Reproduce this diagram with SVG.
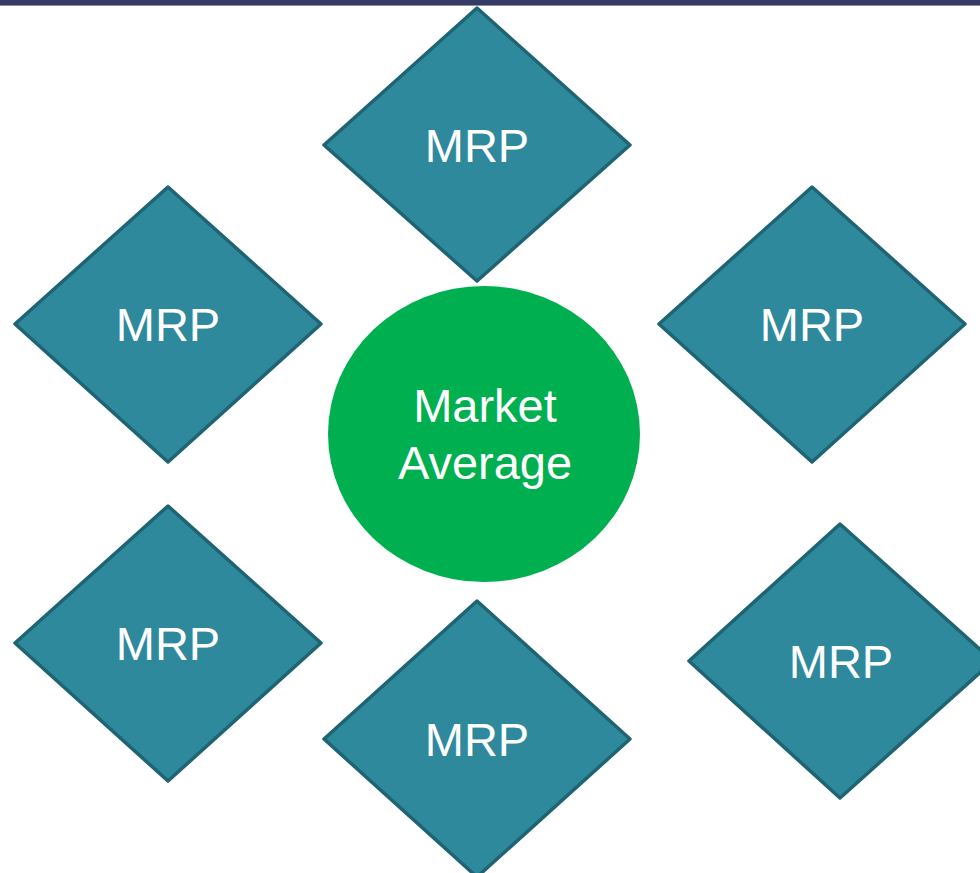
<svg xmlns="http://www.w3.org/2000/svg" width="980" height="873" viewBox="0 0 980 873">
<style>
.d{fill:#2E899D;stroke:#1E6472;stroke-width:3.5;stroke-linejoin:round}
.t{font-family:"Liberation Sans",Arial,sans-serif;font-size:47px;fill:#FFFFFF;text-anchor:middle}
</style>
<rect x="0" y="0" width="980" height="873" fill="#FFFFFF"/>
<rect x="0" y="0" width="980" height="5" fill="#363A66"/>
<rect x="0" y="5" width="980" height="1" fill="#8A8DA8"/>
<g id="connectors"></g>
<g id="mrp-top">
<polygon class="d" points="477,8 630,145 477,281 324,145"/>
<text class="t" x="477" y="162">MRP</text>
</g>
<g id="mrp-left">
<polygon class="d" points="168,187 321,324 168,462 15,324"/>
<text class="t" x="168" y="341">MRP</text>
</g>
<g id="mrp-right">
<polygon class="d" points="812,187 965,324 812,462 659,324"/>
<text class="t" x="812" y="341">MRP</text>
</g>
<g id="mrp-bottom-left">
<polygon class="d" points="168,506 321,643 168,781 15,643"/>
<text class="t" x="168" y="660">MRP</text>
</g>
<g id="mrp-bottom">
<polygon class="d" points="477,601 630,739 477,877 324,739"/>
<text class="t" x="477" y="756">MRP</text>
</g>
<g id="mrp-bottom-right">
<polygon class="d" points="840,524 993,661 840,798 689,661"/>
<text class="t" x="841" y="678">MRP</text>
</g>
<g id="market-average">
<ellipse cx="484" cy="434" rx="156" ry="148" fill="#00B050"/>
<text class="t" x="485" y="422">Market</text>
<text class="t" x="485" y="479">Average</text>
</g>
</svg>
